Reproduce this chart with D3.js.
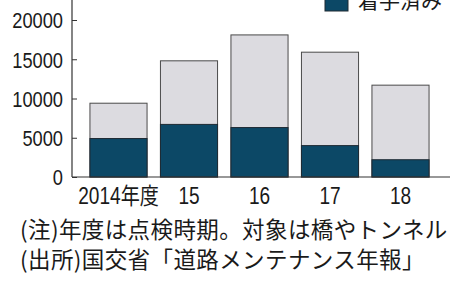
<!DOCTYPE html>
<html>
<head>
<meta charset="utf-8">
<script src="https://cdn.jsdelivr.net/npm/d3@7"></script>
<style>
  html, body { margin: 0; padding: 0; background: #fff; }
  svg { display: block; }
</style>
</head>
<body>
<div id="chart"></div>
<script>
// data
const years = ['2014年度', '15', '16', '17', '18']
const totals = [9400, 14800, 18100, 15900, 11700]
const started = [4900, 6700, 6300, 4000, 2200]
const yTicks = [0, 5000, 10000, 15000, 20000]
const legendLabel = '着手済み'
const notes = ['(注)年度は点検時期。対象は橋やトンネル', '(出所)国交省「道路メンテナンス年報」']

const W = 460, H = 287
const dark = '#0c4866'
const light = '#dcdbe0'
const edge = '#4a4a4a'
const numFont = '"Liberation Sans", "Noto Sans CJK JP", sans-serif'
const jpFont = '"Noto Sans CJK JP", sans-serif'
const squeeze = 0.83 // numbers in the reference are set in a condensed face

const svg = d3.select('#chart').append('svg')
  .attr('width', W).attr('height', H)

const y = d3.scaleLinear().domain([0, 20000]).range([177, 20])
const x = d3.scaleBand().domain(years).range([83.25, 435.75])
  .paddingInner(0.19).paddingOuter(0.095)

// ── axes ──────────────────────────────────────────────
svg.append('line').attr('x1', 72).attr('x2', 72).attr('y1', 0).attr('y2', y(0))
  .attr('stroke', '#333').attr('stroke-width', 1.2)

const yAxis = svg.append('g').attr('transform', 'translate(72,0)')
  .call(d3.axisRight(y).tickValues(yTicks).tickSize(5).tickFormat(d3.format('d')))
yAxis.select('.domain').remove()
yAxis.selectAll('line').attr('stroke', '#333')
yAxis.selectAll('text')
  .attr('x', 0).attr('text-anchor', 'end').attr('dy', '0.36em')
  .attr('transform', `translate(-9,0) scale(${squeeze},1)`)
  .attr('fill', '#1a1a1a').style('font-family', numFont).style('font-size', '22px')

// ── bars ──────────────────────────────────────────────
const rows = years.map((yr, i) => ({ yr, total: totals[i], done: started[i] }))
const bars = svg.append('g')
bars.selectAll('rect.total').data(rows).join('rect').attr('class', 'total')
  .attr('x', d => x(d.yr)).attr('width', x.bandwidth())
  .attr('y', d => y(d.total)).attr('height', d => y(0) - y(d.total))
  .attr('fill', light).attr('stroke', edge).attr('stroke-width', 1)
bars.selectAll('rect.done').data(rows).join('rect').attr('class', 'done')
  .attr('x', d => x(d.yr)).attr('width', x.bandwidth())
  .attr('y', d => y(d.done)).attr('height', d => y(0) - y(d.done))
  .attr('fill', dark).attr('stroke', '#1e2a33').attr('stroke-width', 1)

svg.append('line').attr('x1', 72).attr('x2', 450).attr('y1', y(0)).attr('y2', y(0))
  .attr('stroke', '#333').attr('stroke-width', 1.2)

// x labels
svg.append('g').selectAll('text').data(years).join('text')
  .attr('transform', d => `translate(${x(d) + x.bandwidth() / 2},204) scale(${squeeze},1)`)
  .attr('text-anchor', 'middle').attr('fill', '#1a1a1a')
  .style('font-family', numFont).style('font-size', '23px')
  .text(d => d)

// ── legend (cut off at the top) ───────────────────────
svg.append('rect').attr('x', 325).attr('y', -12).attr('width', 23).attr('height', 23)
  .attr('fill', dark).attr('stroke', '#1e2a33')
svg.append('text').attr('x', 358).attr('y', 8).attr('fill', '#1a1a1a')
  .style('font-family', jpFont).style('font-size', '21px').text(legendLabel)

// ── notes ─────────────────────────────────────────────
svg.append('g').selectAll('text').data(notes).join('text')
  .attr('x', 20).attr('y', (d, i) => 230 + i * 30).attr('dy', '0.36em')
  .attr('fill', '#1a1a1a').style('font-family', jpFont).style('font-size', '22.5px')
  .style('letter-spacing', '0.4px')
  .text(d => d)
</script>
</body>
</html>
